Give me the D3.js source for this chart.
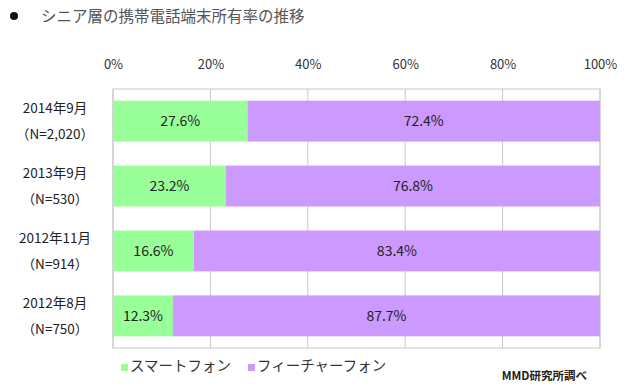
<!DOCTYPE html>
<html>
<head>
<meta charset="utf-8">
<script src="https://cdn.jsdelivr.net/npm/d3@7"></script>
<style>
  body { margin: 0; background: #fff; }
  text { font-family: "Noto Sans CJK JP", "Noto Sans", sans-serif; }
</style>
</head>
<body>
<div id="chart"></div>
<script>
// data
var periods = ["2014年9月", "2013年9月", "2012年11月", "2012年8月"];
var sampleSizes = ["（N=2,020）", "（N=530）", "（N=914）", "（N=750）"];
var smartphone = [27.6, 23.2, 16.6, 12.3];
var featurephone = [72.4, 76.8, 83.4, 87.7];
var seriesNames = ["スマートフォン", "フィーチャーフォン"];
var seriesColors = ["#99ff99", "#cc99ff"];
var tickValues = [0, 20, 40, 60, 80, 100];

var width = 640, height = 392;
var margin = {top: 89, left: 113, right: 40, bottom: 44};

var svg = d3.select('#chart').append('svg')
	.attr('width', width)
	.attr('height', height);

var x = d3.scaleLinear().domain([0, 100]).range([margin.left, width - margin.right]);
var y = d3.scaleBand().domain(periods).range([margin.top, height - margin.bottom]).paddingInner(0.37).paddingOuter(0.18);

// title
svg.append('circle').attr('cx', 14).attr('cy', 16).attr('r', 4).attr('fill', '#111');
svg.append('text')
	.attr('x', 41).attr('y', 22)
	.attr('font-size', 15.5)
	.attr('fill', '#555')
	.text('シニア層の携帯電話端末所有率の推移');

// grid lines + box
svg.selectAll('.grid').data(tickValues).enter().append('line')
	.attr('x1', function(d) { return x(d); })
	.attr('x2', function(d) { return x(d); })
	.attr('y1', margin.top)
	.attr('y2', height - margin.bottom)
	.attr('stroke', '#c8c8c8');
svg.append('rect')
	.attr('x', x(0)).attr('y', margin.top)
	.attr('width', x(100) - x(0))
	.attr('height', height - margin.bottom - margin.top)
	.attr('fill', 'none')
	.attr('stroke', '#c8c8c8');

// top axis labels
var axis = d3.axisTop(x).tickValues(tickValues).tickFormat(function(d) { return d + '%'; }).tickSize(0);
var ax = svg.append('g').attr('transform', 'translate(0,' + (margin.top - 17) + ')').call(axis);
ax.select('.domain').remove();
ax.selectAll('text').attr('font-size', 13).attr('fill', '#333')
	.style('font-family', '"Noto Sans CJK JP", sans-serif');

// bars
var rows = periods.map(function(p, i) {
	return {period: p, vals: [smartphone[i], featurephone[i]]};
});
rows.forEach(function(r) {
	var start = 0;
	r.vals.forEach(function(v, k) {
		svg.append('rect')
			.attr('x', x(start))
			.attr('y', y(r.period))
			.attr('width', x(start + v) - x(start))
			.attr('height', y.bandwidth())
			.attr('fill', seriesColors[k]);
		svg.append('text')
			.attr('x', x(start + v / 2))
			.attr('y', y(r.period) + y.bandwidth() / 2 + 5)
			.attr('text-anchor', 'middle')
			.attr('font-size', 14)
			.attr('fill', '#222')
			.text(v.toFixed(1) + '%');
		start += v;
	});
});

// category labels
periods.forEach(function(p, i) {
	var cy = y(p) + y.bandwidth() / 2;
	svg.append('text')
		.attr('x', 55).attr('y', cy - 8)
		.attr('text-anchor', 'middle')
		.attr('font-size', 13.5).attr('fill', '#222')
		.text(p);
	svg.append('text')
		.attr('x', 55).attr('y', cy + 18)
		.attr('text-anchor', 'middle')
		.attr('font-size', 13.5).attr('fill', '#222')
		.text(sampleSizes[i]);
});

// legend
var legendX = [121, 248];
seriesNames.forEach(function(n, k) {
	svg.append('rect')
		.attr('x', legendX[k]).attr('y', 364)
		.attr('width', 7).attr('height', 7)
		.attr('fill', seriesColors[k]);
	svg.append('text')
		.attr('x', legendX[k] + 9).attr('y', 371)
		.attr('font-size', 14.5).attr('fill', '#333')
		.text(n);
});

// source
svg.append('text')
	.attr('x', 587).attr('y', 380)
	.attr('text-anchor', 'end')
	.attr('font-size', 11.5).attr('font-weight', 'bold').attr('fill', '#222')
	.text('MMD研究所調べ');
</script>
</body>
</html>
